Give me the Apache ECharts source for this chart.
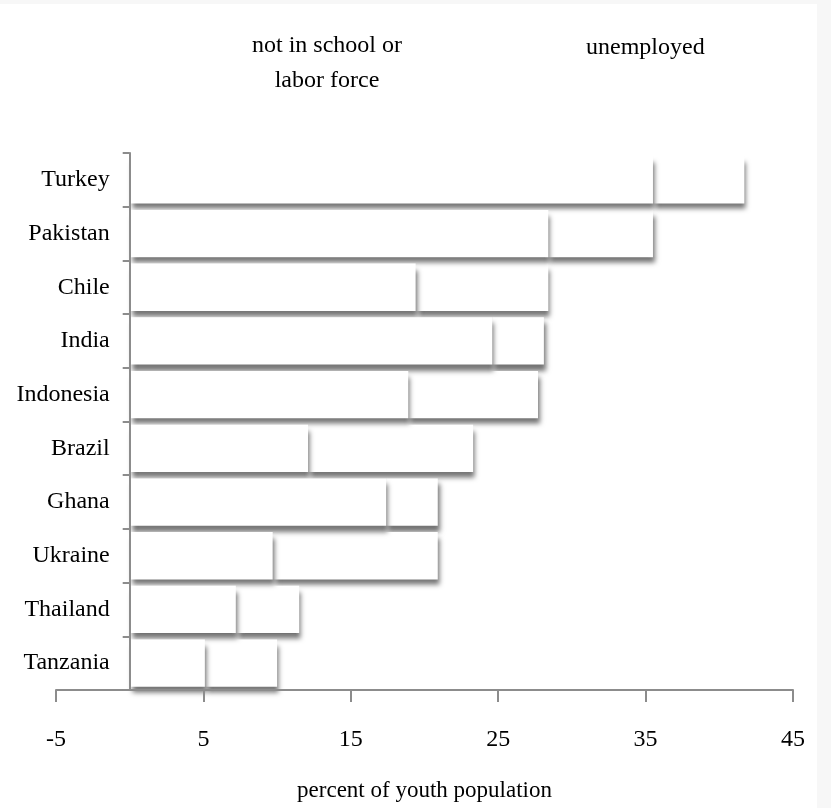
<!DOCTYPE html>
<html>
<head>
<meta charset="utf-8">
<script src="https://cdn.jsdelivr.net/npm/echarts@6/dist/echarts.min.js"></script>
<style>html,body{margin:0;padding:0;background:#fff}#c{width:831px;height:808px}</style>
</head>
<body>
<div id="c"></div>
<script>
var categories = ['Turkey','Pakistan','Chile','India','Indonesia','Brazil','Ghana','Ukraine','Thailand','Tanzania'];
var notInSchool = [35.5, 28.4, 19.4, 24.6, 18.9, 12.1, 17.4, 9.7, 7.2, 5.1];
var unemployed  = [6.2, 7.1, 9.0, 3.5, 8.8, 11.2, 3.5, 11.2, 4.3, 4.9];
var seriesNames = ['not in school or labor force', 'unemployed'];
var xTicks = {min: -5, max: 45, interval: 10};

var font = 'Liberation Serif, Times New Roman, serif';
var chart = echarts.init(document.getElementById('c'));
var barStyle = {
  color: '#ffffff',
  shadowColor: 'rgba(0,0,0,0.55)',
  shadowBlur: 5,
  shadowOffsetX: 2,
  shadowOffsetY: 6
};
var gridLeft = 56, gridRight = 38;
var plotWidth = 831 - gridLeft - gridRight;
var zeroOffset = (0 - xTicks.min) / (xTicks.max - xTicks.min) * plotWidth;
chart.setOption({
  backgroundColor: '#f7f7f7',
  animation: false,
  graphic: [{type: 'rect', shape: {x: 0, y: 4, width: 817, height: 804}, style: {fill: '#ffffff'}, z: -10, silent: true}],
  legend: [
    {
      data: [seriesNames[0]], left: 232, top: 29, itemWidth: 10, itemHeight: 10, itemGap: 0,
      icon: 'rect',
      formatter: function () { return '{a|not in school or}\n{a|labor force}'; },
      textStyle: {fontFamily: font, fontSize: 24, color: '#000', rich: {a: {fontFamily: font, fontSize: 24, color: '#000', align: 'center', lineHeight: 35}}}
    },
    {
      data: [seriesNames[1]], left: 566, top: 31, itemWidth: 10, itemHeight: 10,
      icon: 'rect',
      textStyle: {fontFamily: font, fontSize: 24, color: '#000'}
    }
  ],
  grid: {left: gridLeft, right: gridRight, top: 153, bottom: 118, containLabel: false, outerBoundsMode: 'none'},
  xAxis: {
    type: 'value', min: xTicks.min, max: xTicks.max, interval: xTicks.interval, z: 10,
    name: 'percent of youth population', nameLocation: 'middle', nameGap: 89,
    nameTextStyle: {fontFamily: font, fontSize: 23, color: '#000'},
    axisLine: {show: true, lineStyle: {color: '#8c8c8c', width: 2}},
    axisTick: {show: true, length: 12, lineStyle: {color: '#8c8c8c', width: 2}},
    axisLabel: {fontFamily: font, fontSize: 24, color: '#000', margin: 38},
    splitLine: {show: false}
  },
  yAxis: {
    type: 'category', data: categories, inverse: true, offset: -zeroOffset, z: 10,
    axisLine: {show: true, onZero: false, lineStyle: {color: '#8c8c8c', width: 2}},
    axisTick: {show: true, length: 7, alignWithLabel: false, lineStyle: {color: '#8c8c8c', width: 2}},
    axisLabel: {fontFamily: font, fontSize: 24, color: '#000', margin: 20}
  },
  series: [
    {name: seriesNames[0], type: 'bar', stack: 's', data: notInSchool, barCategoryGap: '12%', itemStyle: barStyle, z: 3},
    {name: seriesNames[1], type: 'bar', stack: 's', data: unemployed, barCategoryGap: '12%', itemStyle: barStyle, z: 2}
  ]
});
</script>
</body>
</html>
